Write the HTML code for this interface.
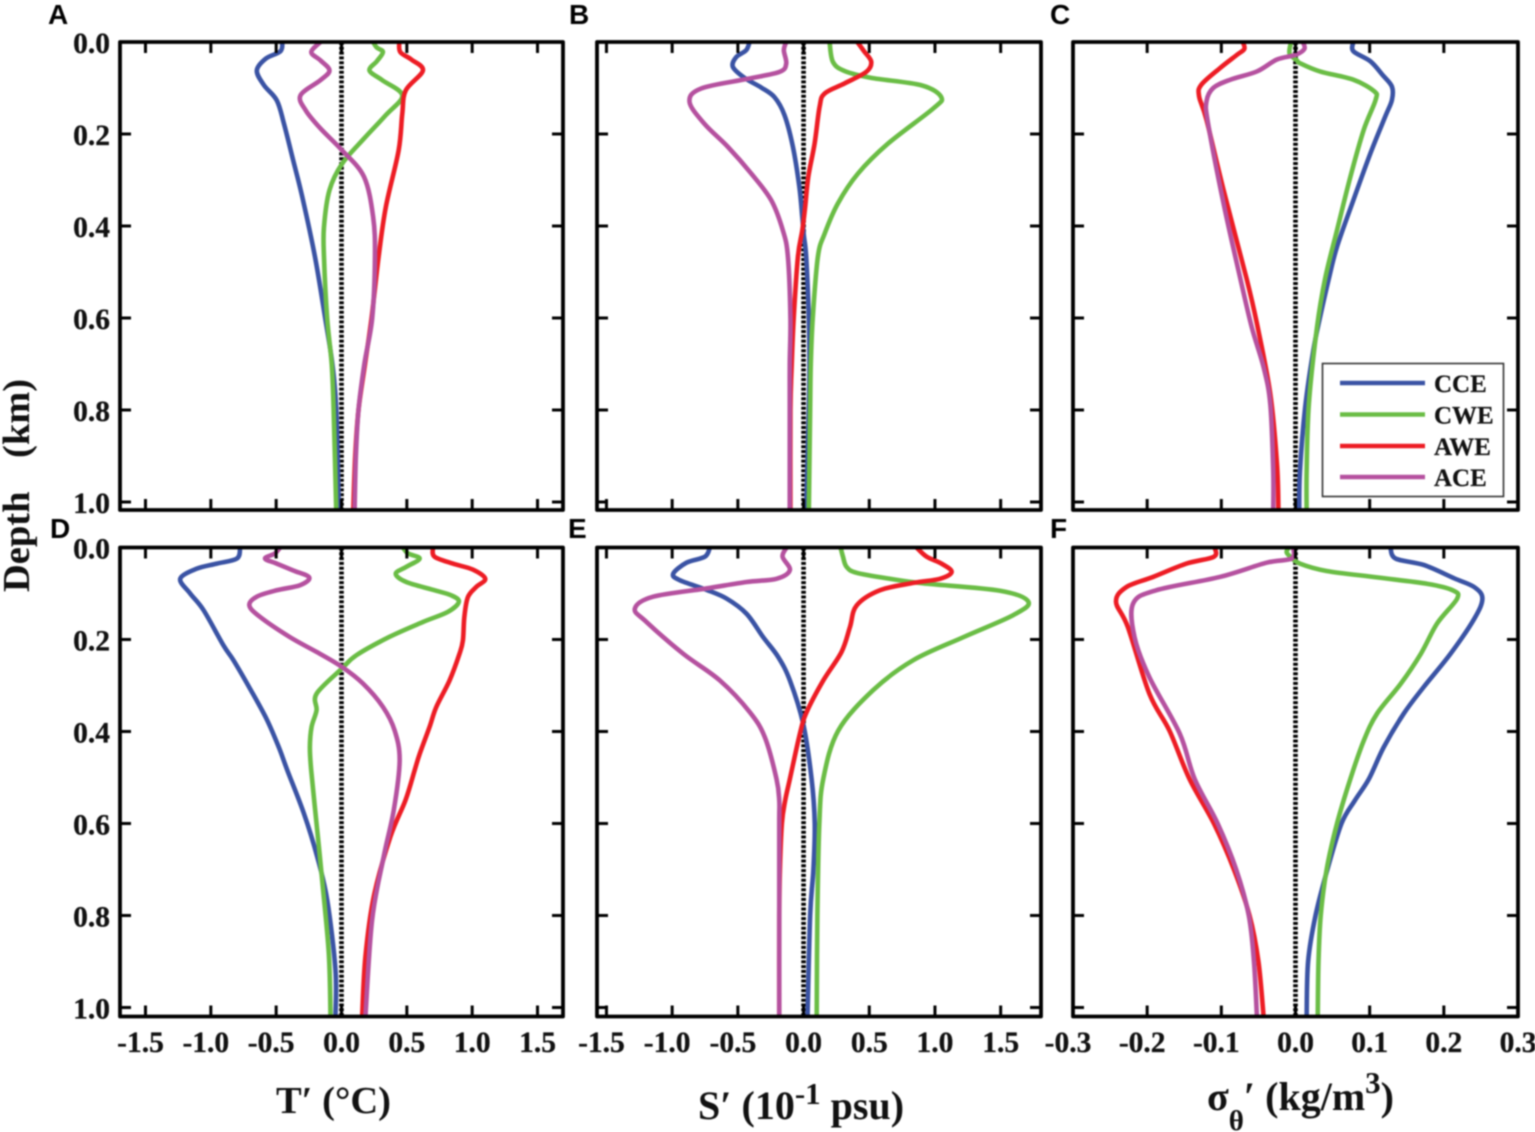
<!DOCTYPE html>
<html lang="en">
<head>
<meta charset="utf-8">
<title>Eddy composite depth profiles</title>
<style>
html,body{margin:0;padding:0;background:#fff;width:1535px;height:1132px;overflow:hidden}
svg{display:block;filter:blur(0.7px)}
text{font-family:"Liberation Serif",serif;font-weight:bold;fill:#111}
.tick-label{font-size:29.5px;stroke:#111;stroke-width:.3px}
.axis-title{font-size:38.5px}
.panel-letter{font-family:"Liberation Sans",sans-serif;font-size:28px;fill:#000}
.legend-label{font-size:25px;stroke:#111;stroke-width:.2px}
</style>
</head>
<body>
<svg id="chart" xmlns="http://www.w3.org/2000/svg" width="1535" height="1132" viewBox="0 0 1535 1132">
  <rect width="1535" height="1132" fill="#fff"/>
  <g id="panels"></g>

  <text class="panel-letter" x="48" y="24">A</text>
  <text class="panel-letter" x="569" y="24">B</text>
  <text class="panel-letter" x="1050" y="24">C</text>
  <text class="panel-letter" x="50" y="538">D</text>
  <text class="panel-letter" x="568" y="538">E</text>
  <text class="panel-letter" x="1050" y="538">F</text>

  <text class="axis-title" transform="translate(29,592) rotate(-90)">Depth</text>
  <text class="axis-title" transform="translate(29,458) rotate(-90)">(km)</text>

  <text class="axis-title" x="276" y="1113">T′ (°C)</text>
  <text class="axis-title" style="font-size:40px" x="698" y="1119">S′ (10<tspan font-size="31" dy="-15">-1</tspan><tspan dy="15"> psu)</tspan></text>
  <text class="axis-title" style="font-size:40px" x="1207" y="1110">σ<tspan font-size="29" dy="20">θ</tspan><tspan dy="-20">′ (kg/m</tspan><tspan font-size="31" dy="-17">3</tspan><tspan dy="17">)</tspan></text>

  <g>
    <rect x="1322.5" y="363.5" width="181" height="133" fill="#fff" stroke="#333" stroke-width="1.6"/>
    <line x1="1340" x2="1425" y1="383" y2="383" stroke="#3a53a4" stroke-width="4.5"/>
    <line x1="1340" x2="1425" y1="414.5" y2="414.5" stroke="#6abd45" stroke-width="4.5"/>
    <line x1="1340" x2="1425" y1="446" y2="446" stroke="#ed1c24" stroke-width="4.5"/>
    <line x1="1340" x2="1425" y1="477" y2="477" stroke="#b5519f" stroke-width="4.5"/>
    <text class="legend-label" x="1434" y="392">CCE</text>
    <text class="legend-label" x="1434" y="423.5">CWE</text>
    <text class="legend-label" x="1434" y="455">AWE</text>
    <text class="legend-label" x="1434" y="486">ACE</text>
  </g>
</svg>

<script>
// ---- Tick values and labels ----
const depthTicks = [0, 0.2, 0.4, 0.6, 0.8, 1.0];
const depthTickLabels = ["0.0", "0.2", "0.4", "0.6", "0.8", "1.0"];
const tempSalTicks = [-1.5, -1, -0.5, 0, 0.5, 1, 1.5];
const tempSalTickLabels = ["-1.5", "-1.0", "-0.5", "0.0", "0.5", "1.0", "1.5"];
const densityTicks = [-0.3, -0.2, -0.1, 0, 0.1, 0.2, 0.3];
const densityTickLabels = ["-0.3", "-0.2", "-0.1", "0.0", "0.1", "0.2", "0.3"];

// ---- Panel A: T' (upper) ----
const depthA_CCE = [0,.02,.036,.062,.094,.127,.178,.257,.337,.467,.6,.7,.8,1.02];
const valueA_CCE = [-.453,-.467,-.579,-.648,-.593,-.495,-.44,-.37,-.3,-.203,-.125,-.07,-.04,-.02];
const depthA_CWE = [0,.012,.022,.042,.062,.083,.116,.159,.21,.264,.322,.402,.467,.6,.7,.8,1.02];
const valueA_CWE = [.242,.27,.317,.27,.214,.312,.465,.339,.172,.006,-.092,-.134,-.134,-.11,-.075,-.06,-.04];
const depthA_AWE = [0,.022,.038,.062,.105,.156,.236,.359,.467,.6,.7,.8,.9,1.02];
const valueA_AWE = [.442,.45,.534,.623,.492,.465,.437,.339,.284,.23,.18,.13,.105,.09];
const depthA_ACE = [0,.022,.04,.062,.083,.116,.149,.188,.236,.293,.38,.467,.6,.7,.8,.9,1.02];
const valueA_ACE = [-.161,-.231,-.161,-.092,-.161,-.314,-.273,-.161,.006,.172,.242,.256,.235,.175,.13,.11,.10];

// ---- Panel B: S' (upper) ----
const depthB_CCE = [0,.018,.033,.054,.078,.099,.12,.159,.228,.315,.38,.42,.467,.6,.7,.8,1.02];
const valueB_CCE = [-.411,-.437,-.513,-.538,-.449,-.322,-.221,-.145,-.081,-.032,-.01,.002,.02,.04,.045,.04,.02];
const depthB_CWE = [0,.043,.063,.078,.094,.12,.145,.221,.286,.351,.417,.467,.6,.7,.8,1.02];
const valueB_CWE = [.198,.223,.312,.515,.896,1.048,.985,.642,.414,.261,.16,.109,.07,.055,.05,.04];
const depthB_AWE = [0,.02,.043,.065,.09,.112,.141,.221,.293,.359,.41,.467,.6,.7,.8,1.02];
const valueB_AWE = [.409,.46,.515,.477,.312,.16,.122,.084,.036,.012,-.01,-.043,-.075,-.09,-.10,-.10];
const depthB_ACE = [0,.018,.047,.065,.08,.101,.13,.178,.228,.286,.344,.41,.467,.6,.7,.8,1.02];
const valueB_ACE = [-.132,-.15,-.132,-.183,-.424,-.779,-.868,-.754,-.576,-.398,-.246,-.157,-.119,-.10,-.105,-.105,-.105];

// ---- Panel C: density (upper) ----
const depthC_CCE = [0,.02,.042,.071,.097,.126,.162,.242,.344,.445,.514,.599,.671,.795,.933,1.02];
const valueC_CCE = [.078,.078,.101,.117,.13,.13,.121,.101,.078,.056,.045,.033,.024,.013,.006,.005];
const depthC_CWE = [0,.025,.04,.046,.064,.082,.107,.126,.191,.293,.409,.514,.62,.787,.933,1.02];
const valueC_CWE = [-.006,-.008,.002,.006,.033,.078,.106,.108,.092,.074,.056,.04,.029,.018,.015,.015];
const depthC_AWE = [0,.015,.028,.057,.093,.118,.169,.322,.514,.612,.765,.917,1.02];
const valueC_AWE = [-.071,-.069,-.079,-.102,-.127,-.13,-.12,-.097,-.066,-.052,-.034,-.025,-.023];
const depthC_ACE = [0,.015,.028,.038,.064,.082,.1,.129,.176,.351,.51,.62,.707,.787,.933,1.02];
const valueC_ACE = [.01,.012,0,-.025,-.052,-.088,-.111,-.12,-.118,-.097,-.075,-.059,-.043,-.034,-.03,-.03];

// ---- Panel D: T' (lower) ----
const depthD_CCE = [0,.024,.035,.046,.068,.1,.136,.213,.245,.307,.373,.434,.484,.578,.672,.767,.919,1.02];
const valueD_CCE = [-.776,-.8,-.954,-1.107,-1.234,-1.158,-1.056,-.903,-.827,-.7,-.573,-.48,-.415,-.288,-.186,-.109,-.046,-.046];
const depthD_CWE = [0,.013,.024,.042,.057,.075,.092,.104,.118,.14,.162,.194,.234,.264,.318,.354,.39,.434,.484,.614,.723,.883,1.02];
const valueD_CWE = [.47,.51,.598,.496,.415,.496,.7,.84,.898,.814,.623,.369,.115,0,-.191,-.191,-.229,-.242,-.232,-.186,-.148,-.097,-.084];
const depthD_AWE = [0,.02,.035,.048,.068,.086,.108,.151,.202,.231,.289,.347,.39,.449,.484,.549,.629,.759,.89,1.02];
const valueD_AWE = [.7,.712,.852,1.005,1.1,1.03,.967,.94,.929,.903,.827,.725,.674,.598,.56,.49,.374,.247,.183,.158];
const depthD_ACE = [0,.013,.024,.035,.05,.065,.082,.093,.107,.126,.151,.195,.227,.259,.296,.347,.398,.463,.571,.672,.81,1.02];
const valueD_ACE = [-.47,-.51,-.585,-.496,-.369,-.247,-.318,-.496,-.649,-.705,-.623,-.394,-.191,0,.165,.318,.407,.445,.4,.323,.234,.183];

// ---- Panel E: S' (lower) ----
const depthE_CCE = [0,.02,.033,.057,.071,.092,.111,.144,.195,.238,.289,.383,.503,.6,.7,.8,1.02];
const valueE_CCE = [-.713,-.751,-.891,-.992,-.942,-.739,-.586,-.434,-.307,-.193,-.104,-.003,.061,.085,.075,.05,.03];
const depthE_CWE = [0,.02,.042,.055,.068,.078,.094,.118,.147,.195,.245,.31,.398,.503,.6,.8,1.02];
const valueE_CWE = [.282,.3,.327,.404,.657,.911,1.495,1.711,1.596,1.216,.835,.53,.264,.15,.12,.105,.10];
const depthE_AWE = [0,.02,.035,.053,.068,.077,.093,.126,.173,.227,.289,.358,.405,.503,.55,.6,.7,.8,1.02];
const valueE_AWE = [.86,.937,1.05,1.127,1.038,.835,.581,.404,.353,.289,.15,.023,-.028,-.104,-.14,-.165,-.18,-.185,-.185];
const depthE_ACE = [0,.02,.049,.068,.075,.089,.107,.133,.162,.231,.289,.358,.413,.503,.55,.6,.8,1.02];
const valueE_ACE = [-.129,-.16,-.104,-.206,-.434,-.739,-1.145,-1.284,-1.195,-.916,-.637,-.409,-.294,-.206,-.185,-.185,-.185,-.185];

// ---- Panel F: density (lower) ----
const depthF_CCE = [0,.024,.038,.067,.086,.111,.155,.231,.303,.361,.434,.503,.55,.6,.7,.8,.9,1.02];
const valueF_CCE = [.128,.135,.173,.214,.241,.252,.241,.209,.173,.146,.119,.099,.08,.062,.043,.027,.017,.015];
const depthF_CWE = [0,.01,.02,.035,.051,.065,.079,.093,.111,.165,.231,.296,.361,.42,.503,.6,.7,.8,.9,1.02];
const valueF_CWE = [-.009,-.012,-.007,.006,.042,.11,.178,.212,.218,.191,.169,.142,.11,.092,.074,.056,.042,.034,.031,.03];
const depthF_AWE = [0,.02,.035,.064,.086,.118,.173,.318,.398,.503,.6,.7,.8,.9,1.02];
const valueF_AWE = [-.109,-.11,-.147,-.192,-.228,-.242,-.226,-.197,-.17,-.143,-.11,-.083,-.062,-.05,-.043];
const depthF_ACE = [0,.024,.033,.064,.093,.122,.195,.282,.405,.503,.6,.7,.8,.9,1.02];
const valueF_ACE = [-.003,-.005,-.039,-.102,-.188,-.219,-.217,-.197,-.156,-.136,-.105,-.08,-.063,-.056,-.052];

// ---- Rendering ----
const NS = "http://www.w3.org/2000/svg";
const root = document.getElementById("panels");

function make(tag, parent, attrs) {
  const node = document.createElementNS(NS, tag);
  for (const key in attrs) node.setAttribute(key, attrs[key]);
  parent.appendChild(node);
  return node;
}

function linearScale(d0, d1, r0, r1) {
  return function (v) { return r0 + (v - d0) / (d1 - d0) * (r1 - r0); };
}

// Catmull-Rom smoothing through the data points
function smoothPath(xs, ys) {
  let d = "M" + xs[0].toFixed(2) + " " + ys[0].toFixed(2);
  const n = xs.length;
  for (let i = 0; i < n - 1; i++) {
    const i0 = Math.max(0, i - 1), i3 = Math.min(n - 1, i + 2);
    const t = 1 / 6;
    const c1x = xs[i] + (xs[i + 1] - xs[i0]) * t, c1y = ys[i] + (ys[i + 1] - ys[i0]) * t;
    const c2x = xs[i + 1] - (xs[i3] - xs[i]) * t, c2y = ys[i + 1] - (ys[i3] - ys[i]) * t;
    d += "C" + c1x.toFixed(2) + " " + c1y.toFixed(2) + " " + c2x.toFixed(2) + " " + c2y.toFixed(2) + " " + xs[i + 1].toFixed(2) + " " + ys[i + 1].toFixed(2);
  }
  return d;
}

const seriesNames = ["cce", "cwe", "awe", "ace"];
const seriesColors = ["#3a53a4", "#6abd45", "#ed1c24", "#b5519f"];

function drawPanel(p) {
  const g = make("g", root, {});
  
  
  const x = linearScale(p.domain[0], p.domain[1], p.left, p.right);
  const y = linearScale(0, 1, p.top, p.top + 460);

  // zero reference line
  const zero = make("line", g, { x1: x(0), x2: x(0), y1: p.top, y2: p.bottom, stroke: "#000", "stroke-width": 4.6, "stroke-dasharray": "3 1.8" });
  
  

  // series
  p.depths.forEach(function (depth, i) {
    const xs = p.values[i].map(x);
    const ys = depth.map(y);
    const path = make("path", g, { d: smoothPath(xs, ys), fill: "none", stroke: seriesColors[i], "stroke-width": 4.6, "stroke-linejoin": "round", "stroke-linecap": "butt" });
    
    
  });

  // x ticks
  p.xTicks.forEach(function (t, i) {
    if (x(t) <= p.left + 1 || x(t) >= p.right - 1) return;
    const a = make("line", g, { x1: x(t), x2: x(t), y1: p.top, y2: p.top + 11, stroke: "#000", "stroke-width": 3 });
    
    
    const b = make("line", g, { x1: x(t), x2: x(t), y1: p.bottom, y2: p.bottom - 11, stroke: "#000", "stroke-width": 3 });
    
    
  });
  if (p.showX) {
    p.xTicks.forEach(function (t, i) {
      const label = make("text", g, { class: "tick-label", x: x(t) + (t < 0 ? -5 : 0), y: 1052, "text-anchor": "middle" });
      
      
      label.textContent = p.xLabels[i];
    });
  }

  // y ticks
  depthTicks.forEach(function (t, i) {
    if (t > 0) {
      const a = make("line", g, { x1: p.left, x2: p.left + 11, y1: y(t), y2: y(t), stroke: "#000", "stroke-width": 3 });
      
      
      const b = make("line", g, { x1: p.right, x2: p.right - 11, y1: y(t), y2: y(t), stroke: "#000", "stroke-width": 3 });
      
      
    }
    if (p.showY) {
      const label = make("text", g, { class: "tick-label", x: 110, y: y(t) + 11, "text-anchor": "end" });
      
      
      label.textContent = depthTickLabels[i];
    }
  });

  // frame
  const frame = make("rect", g, { x: p.left, y: p.top, width: p.right - p.left, height: p.bottom - p.top, fill: "none", stroke: "#000", "stroke-width": 3.8, "stroke-linejoin": "round" });
  
  
}

drawPanel({ id: "a", left: 120, right: 563, top: 42, bottom: 510, domain: [-1.695, 1.695], xTicks: tempSalTicks, xLabels: tempSalTickLabels, showX: false, showY: true,
  depths: [depthA_CCE, depthA_CWE, depthA_AWE, depthA_ACE], values: [valueA_CCE, valueA_CWE, valueA_AWE, valueA_ACE] });
drawPanel({ id: "b", left: 597, right: 1041, top: 42, bottom: 510, domain: [-1.572, 1.807], xTicks: tempSalTicks, xLabels: tempSalTickLabels, showX: false, showY: false,
  depths: [depthB_CCE, depthB_CWE, depthB_AWE, depthB_ACE], values: [valueB_CCE, valueB_CWE, valueB_AWE, valueB_ACE] });
drawPanel({ id: "c", left: 1073, right: 1518, top: 42, bottom: 510, domain: [-0.3, 0.3], xTicks: densityTicks, xLabels: densityTickLabels, showX: false, showY: false,
  depths: [depthC_CCE, depthC_CWE, depthC_AWE, depthC_ACE], values: [valueC_CCE, valueC_CWE, valueC_AWE, valueC_ACE] });
drawPanel({ id: "d", left: 120, right: 563, top: 547.5, bottom: 1016.5, domain: [-1.695, 1.695], xTicks: tempSalTicks, xLabels: tempSalTickLabels, showX: true, showY: true,
  depths: [depthD_CCE, depthD_CWE, depthD_AWE, depthD_ACE], values: [valueD_CCE, valueD_CWE, valueD_AWE, valueD_ACE] });
drawPanel({ id: "e", left: 597, right: 1041, top: 547.5, bottom: 1016.5, domain: [-1.572, 1.807], xTicks: tempSalTicks, xLabels: tempSalTickLabels, showX: true, showY: false,
  depths: [depthE_CCE, depthE_CWE, depthE_AWE, depthE_ACE], values: [valueE_CCE, valueE_CWE, valueE_AWE, valueE_ACE] });
drawPanel({ id: "f", left: 1073, right: 1518, top: 547.5, bottom: 1016.5, domain: [-0.3, 0.3], xTicks: densityTicks, xLabels: densityTickLabels, showX: true, showY: false,
  depths: [depthF_CCE, depthF_CWE, depthF_AWE, depthF_ACE], values: [valueF_CCE, valueF_CWE, valueF_AWE, valueF_ACE] });
</script>
</body>
</html>
